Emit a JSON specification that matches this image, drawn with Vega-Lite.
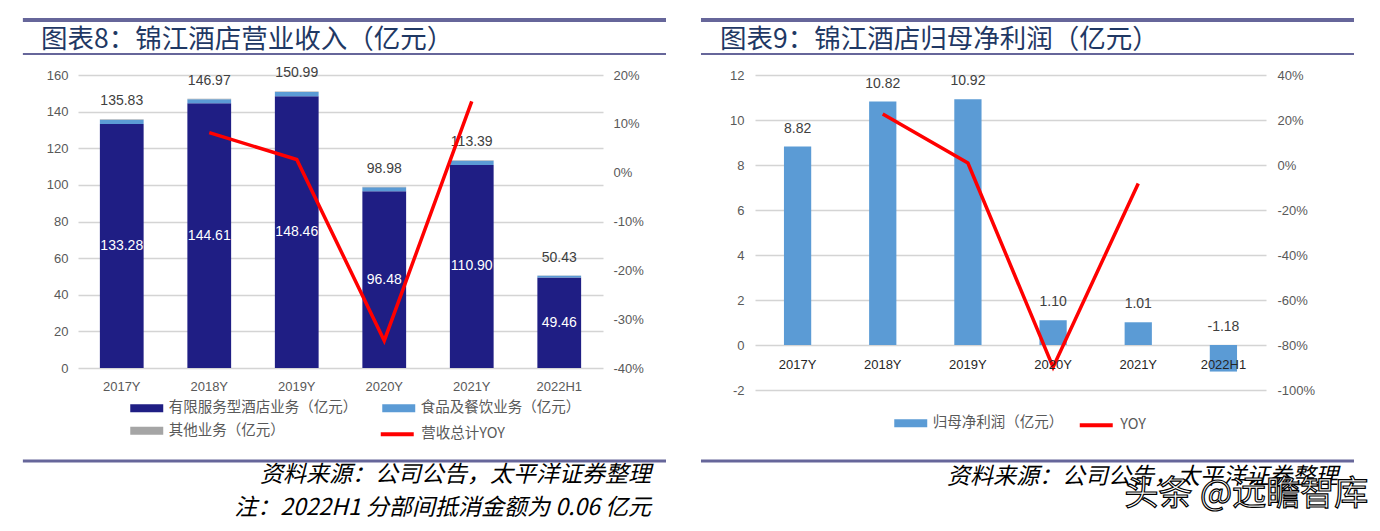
{
  "$schema": "https://vega.github.io/schema/vega-lite/v6.json",
  "background": "white",
  "padding": {"left": 20, "top": 18, "right": 0, "bottom": 0},
  "config": {
    "locale": {"number": {"decimal": ".", "thousands": ",", "grouping": [3], "currency": ["$", ""], "minus": "-"}},
    "view": {"stroke": null},
    "font": "Liberation Sans",
    "axis": {"labelFont": "Liberation Sans", "labelFontSize": 13, "labelColor": "#595959", "title": null, "domain": false, "ticks": false, "gridColor": "#D4D4D4", "gridWidth": 1.5, "labelOverlap": false},
    "legend": {"labelFont": "Noto Sans CJK SC", "labelFontSize": 14.5, "labelColor": "#595959", "title": null, "padding": 0, "labelLimit": 400}
  },
  "resolve": {"scale": {"color": "independent", "stroke": "independent"}, "legend": {"color": "independent", "stroke": "independent"}},
  "datasets": {
    "rev": [
      {"year": "2017Y", "segment": "有限服务型酒店业务（亿元）", "value": 133.28},
      {"year": "2017Y", "segment": "食品及餐饮业务（亿元）", "value": 2.30},
      {"year": "2017Y", "segment": "其他业务（亿元）", "value": 0.25},
      {"year": "2018Y", "segment": "有限服务型酒店业务（亿元）", "value": 144.61},
      {"year": "2018Y", "segment": "食品及餐饮业务（亿元）", "value": 2.14},
      {"year": "2018Y", "segment": "其他业务（亿元）", "value": 0.22},
      {"year": "2019Y", "segment": "有限服务型酒店业务（亿元）", "value": 148.46},
      {"year": "2019Y", "segment": "食品及餐饮业务（亿元）", "value": 2.29},
      {"year": "2019Y", "segment": "其他业务（亿元）", "value": 0.24},
      {"year": "2020Y", "segment": "有限服务型酒店业务（亿元）", "value": 96.48},
      {"year": "2020Y", "segment": "食品及餐饮业务（亿元）", "value": 2.25},
      {"year": "2020Y", "segment": "其他业务（亿元）", "value": 0.25},
      {"year": "2021Y", "segment": "有限服务型酒店业务（亿元）", "value": 110.90},
      {"year": "2021Y", "segment": "食品及餐饮业务（亿元）", "value": 2.24},
      {"year": "2021Y", "segment": "其他业务（亿元）", "value": 0.25},
      {"year": "2022H1", "segment": "有限服务型酒店业务（亿元）", "value": 49.46},
      {"year": "2022H1", "segment": "食品及餐饮业务（亿元）", "value": 0.85},
      {"year": "2022H1", "segment": "其他业务（亿元）", "value": 0.18}
    ],
    "revTotal": [
      {"year": "2017Y", "main": 133.28, "total": 135.83, "yoy": null},
      {"year": "2018Y", "main": 144.61, "total": 146.97, "yoy": 0.082},
      {"year": "2019Y", "main": 148.46, "total": 150.99, "yoy": 0.027},
      {"year": "2020Y", "main": 96.48, "total": 98.98, "yoy": -0.344},
      {"year": "2021Y", "main": 110.90, "total": 113.39, "yoy": 0.146},
      {"year": "2022H1", "main": 49.46, "total": 50.43, "yoy": null}
    ],
    "np": [
      {"year": "2017Y", "profit": 8.82, "yoy": null},
      {"year": "2018Y", "profit": 10.82, "yoy": 0.227},
      {"year": "2019Y", "profit": 10.92, "yoy": 0.009},
      {"year": "2020Y", "profit": 1.10, "yoy": -0.899},
      {"year": "2021Y", "profit": 1.01, "yoy": -0.082},
      {"year": "2022H1", "profit": -1.18, "yoy": null}
    ]
  },
  "bounds": "flush",
  "columns": 2,
  "spacing": {"row": 21, "column": 152},
  "concat": [
    {
      "width": 525, "height": 34,
      "data": {"values": [{"label": "图表8：锦江酒店营业收入（亿元）"}]},
      "layer": [
        {"mark": {"type": "rule", "color": "#66669A", "strokeWidth": 4},
         "encoding": {
           "x": {"datum": -0.105, "type": "quantitative", "scale": {"domain": [0, 1]}, "axis": null},
           "x2": {"datum": 1.12},
           "y": {"datum": 1, "type": "quantitative", "scale": {"domain": [0, 1]}, "axis": null}}},
        {"mark": {"type": "rule", "color": "#66669A", "strokeWidth": 2},
         "encoding": {
           "x": {"datum": -0.105, "type": "quantitative", "scale": {"domain": [0, 1]}, "axis": null},
           "x2": {"datum": 1.12},
           "y": {"datum": 0, "type": "quantitative", "scale": {"domain": [0, 1]}, "axis": null}}},
        {"mark": {"type": "text", "align": "left", "baseline": "middle", "font": "Noto Sans CJK SC", "fontSize": 26.5, "color": "#1F3864"},
         "encoding": {
           "x": {"datum": -0.0705, "type": "quantitative", "scale": {"domain": [0, 1]}, "axis": null},
           "y": {"datum": 0.4, "type": "quantitative", "scale": {"domain": [0, 1]}, "axis": null},
           "text": {"field": "label"}}}
      ]
    },
    {
      "width": 511, "height": 34,
      "data": {"values": [{"label": "图表9：锦江酒店归母净利润（亿元）"}]},
      "layer": [
        {"mark": {"type": "rule", "color": "#66669A", "strokeWidth": 4},
         "encoding": {
           "x": {"datum": -0.1057, "type": "quantitative", "scale": {"domain": [0, 1]}, "axis": null},
           "x2": {"datum": 1.1722},
           "y": {"datum": 1, "type": "quantitative", "scale": {"domain": [0, 1]}, "axis": null}}},
        {"mark": {"type": "rule", "color": "#66669A", "strokeWidth": 2},
         "encoding": {
           "x": {"datum": -0.1057, "type": "quantitative", "scale": {"domain": [0, 1]}, "axis": null},
           "x2": {"datum": 1.1722},
           "y": {"datum": 0, "type": "quantitative", "scale": {"domain": [0, 1]}, "axis": null}}},
        {"mark": {"type": "text", "align": "left", "baseline": "middle", "font": "Noto Sans CJK SC", "fontSize": 26.5, "color": "#1F3864"},
         "encoding": {
           "x": {"datum": -0.0685, "type": "quantitative", "scale": {"domain": [0, 1]}, "axis": null},
           "y": {"datum": 0.4, "type": "quantitative", "scale": {"domain": [0, 1]}, "axis": null},
           "text": {"field": "label"}}}
      ]
    },
    {
      "width": 525, "height": 293,
      "layer": [
        {"layer": [
          {"data": {"name": "rev"},
           "mark": {"type": "bar"},
           "encoding": {
             "x": {"field": "year", "type": "nominal", "sort": null, "scale": {"paddingInner": 0.5, "paddingOuter": 0.25}, "axis": {"labelAngle": 0, "labelPadding": 12}},
             "y": {"field": "value", "type": "quantitative", "stack": "zero", "scale": {"domain": [0, 160], "nice": false}, "axis": {"values": [0, 20, 40, 60, 80, 100, 120, 140, 160], "grid": true, "labelOverlap": false, "labelPadding": 10}},
             "order": {"field": "value", "sort": "descending"},
             "color": {"field": "segment", "type": "nominal",
               "scale": {"domain": ["有限服务型酒店业务（亿元）", "食品及餐饮业务（亿元）", "其他业务（亿元）"], "range": ["#1F1E84", "#5B9BD5", "#A5A5A5"]},
               "legend": {"orient": "none", "legendX": 60.25, "legendY": 324.75, "columns": 2, "direction": "horizontal", "symbolType": "M-2,-0.5H2V0.5H-2Z", "symbolSize": 272, "symbolStrokeWidth": 0, "labelOffset": 13.5, "columnPadding": 25, "rowPadding": 7.5}}
           }},
          {"data": {"name": "revTotal"},
           "transform": [{"calculate": "datum.main / 2", "as": "mid"}],
           "mark": {"type": "text", "color": "white", "fontSize": 14, "baseline": "middle"},
           "encoding": {
             "x": {"field": "year", "type": "nominal", "sort": null},
             "y": {"field": "mid", "type": "quantitative", "axis": {"values": [0, 20, 40, 60, 80, 100, 120, 140, 160], "grid": true, "labelOverlap": false, "labelPadding": 10}},
             "text": {"field": "main", "type": "quantitative", "format": ".2f"}}},
          {"data": {"name": "revTotal"},
           "mark": {"type": "text", "color": "#404040", "fontSize": 14, "baseline": "bottom", "dy": -11},
           "encoding": {
             "x": {"field": "year", "type": "nominal", "sort": null},
             "y": {"field": "total", "type": "quantitative", "axis": {"values": [0, 20, 40, 60, 80, 100, 120, 140, 160], "grid": true, "labelOverlap": false, "labelPadding": 10}},
             "text": {"field": "total", "type": "quantitative", "format": ".2f"}}}
        ]},
        {"data": {"name": "revTotal"},
         "mark": {"type": "line", "strokeWidth": 3.5},
         "encoding": {
           "x": {"field": "year", "type": "nominal", "sort": null},
           "y": {"field": "yoy", "type": "quantitative", "scale": {"domain": [-0.4, 0.2], "nice": false, "zero": false}, "axis": {"orient": "right", "format": ".0%", "values": [-0.4, -0.3, -0.2, -0.1, 0, 0.1, 0.2], "grid": false, "labelPadding": 10}},
           "stroke": {"datum": "营收总计YOY", "scale": {"range": ["#FF0000"]},
             "legend": {"orient": "none", "legendX": 308.75, "legendY": 348.75, "symbolType": "M-2,0H2", "symbolSize": 272, "symbolStrokeWidth": 4, "labelOffset": 13.5}}}}
      ],
      "resolve": {"scale": {"y": "independent"}}
    },
    {
      "width": 511, "height": 315,
      "layer": [
        {"layer": [
          {"data": {"name": "np"},
           "mark": {"type": "bar"},
           "encoding": {
             "x": {"field": "year", "type": "nominal", "sort": null, "scale": {"paddingInner": 0.68, "paddingOuter": 0.34}, "axis": {"labelAngle": 0, "offset": -45, "labelPadding": 13, "labelColor": "#262626", "zindex": 1}},
             "y": {"field": "profit", "type": "quantitative", "scale": {"domain": [-2, 12], "nice": false, "zero": false}, "axis": {"values": [-2, 0, 2, 4, 6, 8, 10, 12], "grid": true, "labelOverlap": false, "labelPadding": 11}},
             "color": {"datum": "归母净利润（亿元）", "scale": {"range": ["#5B9BD5"]},
               "legend": {"orient": "none", "legendX": 147.25, "legendY": 339.75, "symbolType": "M-2,-0.5H2V0.5H-2Z", "symbolSize": 272, "symbolStrokeWidth": 0, "labelOffset": 13.5}}
           }},
          {"data": {"name": "np"},
           "transform": [{"calculate": "max(datum.profit, 0)", "as": "lab"}],
           "mark": {"type": "text", "color": "#404040", "fontSize": 14, "baseline": "bottom", "dy": -11},
           "encoding": {
             "x": {"field": "year", "type": "nominal", "sort": null},
             "y": {"field": "lab", "type": "quantitative", "axis": {"values": [-2, 0, 2, 4, 6, 8, 10, 12], "grid": true, "labelOverlap": false, "labelPadding": 11}},
             "text": {"field": "profit", "type": "quantitative", "format": ".2f"}}}
        ]},
        {"data": {"name": "np"},
         "mark": {"type": "line", "strokeWidth": 3.5},
         "encoding": {
           "x": {"field": "year", "type": "nominal", "sort": null},
           "y": {"field": "yoy", "type": "quantitative", "scale": {"domain": [-1, 0.4], "nice": false, "zero": false}, "axis": {"orient": "right", "format": ".0%", "values": [-1, -0.8, -0.6, -0.4, -0.2, 0, 0.2, 0.4], "grid": false, "labelPadding": 11}},
           "stroke": {"datum": "YOY", "scale": {"range": ["#FF0000"]},
             "legend": {"orient": "none", "legendX": 330.75, "legendY": 339.75, "symbolType": "M-2,0H2", "symbolSize": 272, "symbolStrokeWidth": 4, "labelOffset": 13.5}}}}
      ],
      "resolve": {"scale": {"y": "independent"}}
    },
    {
      "width": 525, "height": 120,
      "data": {"values": [{"src": "资料来源：公司公告，太平洋证券整理", "note": "注：2022H1 分部间抵消金额为 0.06 亿元"}]},
      "layer": [
        {"mark": {"type": "rule", "color": "#66669A", "strokeWidth": 3},
         "encoding": {
           "x": {"datum": -0.105, "type": "quantitative", "scale": {"domain": [0, 1]}, "axis": null},
           "x2": {"datum": 1.12},
           "y": {"datum": 0.417, "type": "quantitative", "scale": {"domain": [0, 1], "reverse": true}, "axis": null}}},
        {"mark": {"type": "text", "align": "right", "baseline": "middle", "font": "Noto Sans CJK SC", "fontStyle": "italic", "fontSize": 23, "color": "#000000"},
         "encoding": {
           "x": {"datum": 1.0914, "type": "quantitative", "scale": {"domain": [0, 1]}, "axis": null},
           "y": {"datum": 0.533, "type": "quantitative", "scale": {"domain": [0, 1], "reverse": true}, "axis": null},
           "text": {"field": "src"}}},
        {"mark": {"type": "text", "align": "right", "baseline": "middle", "font": "Noto Sans CJK SC", "fontStyle": "italic", "fontSize": 23, "color": "#000000"},
         "encoding": {
           "x": {"datum": 1.0914, "type": "quantitative", "scale": {"domain": [0, 1]}, "axis": null},
           "y": {"datum": 0.808, "type": "quantitative", "scale": {"domain": [0, 1], "reverse": true}, "axis": null},
           "text": {"field": "note"}}}
      ]
    },
    {
      "width": 511, "height": 120,
      "data": {"values": [{"src": "资料来源：公司公告，太平洋证券整理", "wm": "头条 @远瞻智库"}]},
      "layer": [
        {"mark": {"type": "rule", "color": "#66669A", "strokeWidth": 3},
         "encoding": {
           "x": {"datum": -0.1057, "type": "quantitative", "scale": {"domain": [0, 1]}, "axis": null},
           "x2": {"datum": 1.1722},
           "y": {"datum": 0.417, "type": "quantitative", "scale": {"domain": [0, 1], "reverse": true}, "axis": null}}},
        {"mark": {"type": "text", "align": "right", "baseline": "middle", "font": "Noto Sans CJK SC", "fontStyle": "italic", "fontSize": 23, "color": "#000000"},
         "encoding": {
           "x": {"datum": 1.141, "type": "quantitative", "scale": {"domain": [0, 1]}, "axis": null},
           "y": {"datum": 0.55, "type": "quantitative", "scale": {"domain": [0, 1], "reverse": true}, "axis": null},
           "text": {"field": "src"}}},
        {"mark": {"type": "text", "align": "right", "baseline": "middle", "font": "Noto Sans CJK SC", "fontSize": 34, "fill": "#FFFFFF", "stroke": "#000000", "strokeWidth": 1.2},
         "encoding": {
           "x": {"datum": 1.2, "type": "quantitative", "scale": {"domain": [0, 1]}, "axis": null},
           "y": {"datum": 0.7, "type": "quantitative", "scale": {"domain": [0, 1], "reverse": true}, "axis": null},
           "text": {"field": "wm"}}}
      ]
    }
  ]
}
